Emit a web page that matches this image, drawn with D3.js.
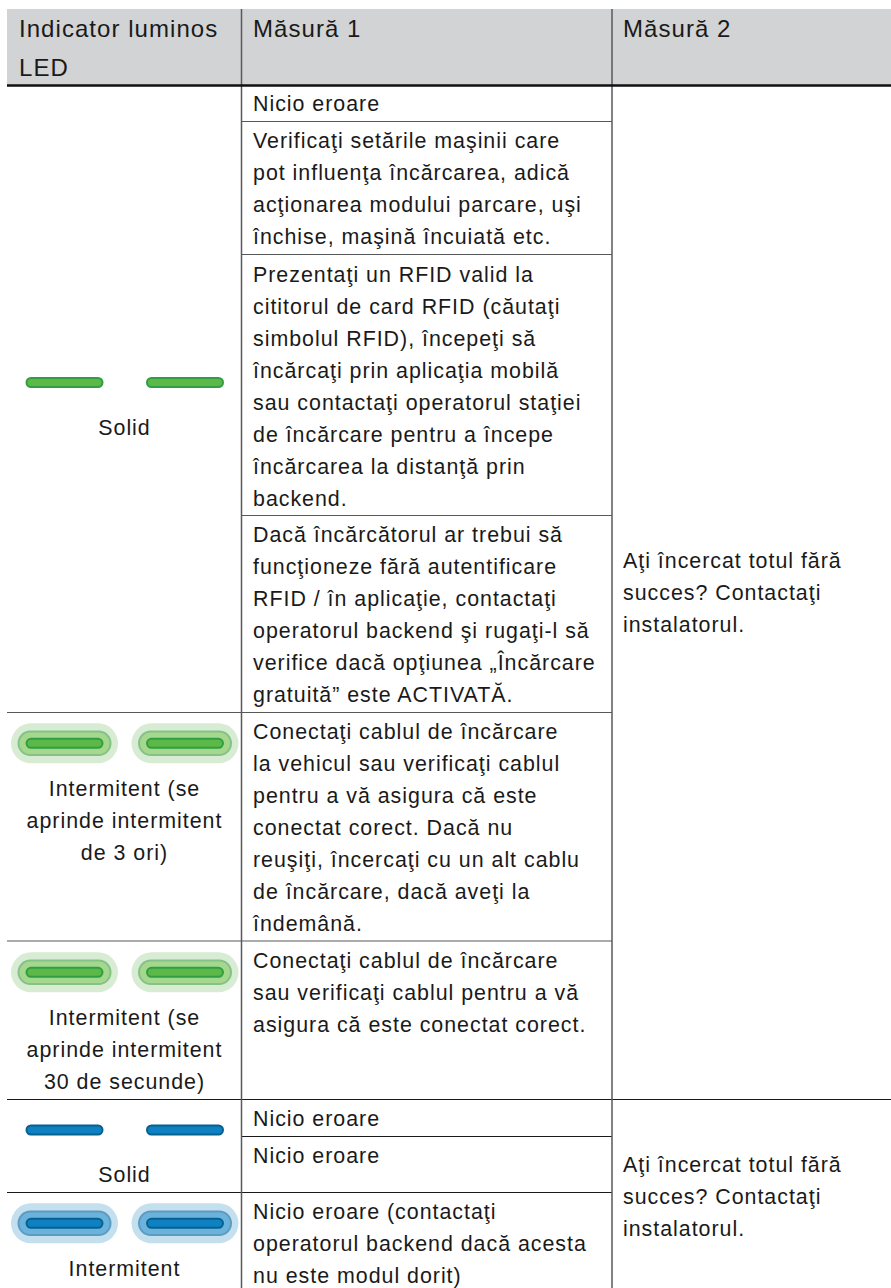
<!DOCTYPE html>
<html>
<head>
<meta charset="utf-8">
<script src="https://cdn.jsdelivr.net/npm/d3@7"></script>
<style>
  html, body { margin: 0; padding: 0; background: #fff; }
  svg { display: block; }
  text { font-family: "Liberation Sans", Arial, sans-serif; font-size: 21.4px; letter-spacing: 0.98px; fill: #1a1a1a; }
  .head text { font-size: 24px; letter-spacing: 1.05px; }
</style>
</head>
<body>
<svg id="table" width="891" height="1288"></svg>
<script>
// table contents
const headerLabels = [['Indicator luminos', 'LED'], ['Măsură 1'], ['Măsură 2']];

const measure1 = [
  ['Nicio eroare'],
  ['Verificaţi setările maşinii care', 'pot influenţa încărcarea, adică', 'acţionarea modului parcare, uşi', 'închise, maşină încuiată etc.'],
  ['Prezentaţi un RFID valid la', 'cititorul de card RFID (căutaţi', 'simbolul RFID), începeţi să', 'încărcaţi prin aplicaţia mobilă', 'sau contactaţi operatorul staţiei', 'de încărcare pentru a începe', 'încărcarea la distanţă prin', 'backend.'],
  ['Dacă încărcătorul ar trebui să', 'funcţioneze fără autentificare', 'RFID / în aplicaţie, contactaţi', 'operatorul backend şi rugaţi-l să', 'verifice dacă opţiunea „Încărcare', 'gratuită” este ACTIVATĂ.'],
  ['Conectaţi cablul de încărcare', 'la vehicul sau verificaţi cablul', 'pentru a vă asigura că este', 'conectat corect. Dacă nu', 'reuşiţi, încercaţi cu un alt cablu', 'de încărcare, dacă aveţi la', 'îndemână.'],
  ['Conectaţi cablul de încărcare', 'sau verificaţi cablul pentru a vă', 'asigura că este conectat corect.'],
  ['Nicio eroare'],
  ['Nicio eroare'],
  ['Nicio eroare (contactaţi', 'operatorul backend dacă acesta', 'nu este modul dorit)']
];

const measure2Text = ['Aţi încercat totul fără', 'succes? Contactaţi', 'instalatorul.'];

const ledLabels = [['Solid'], ['Intermitent (se', 'aprinde intermitent', 'de 3 ori)'], ['Intermitent (se', 'aprinde intermitent', '30 de secunde)'], ['Solid'], ['Intermitent']];
const ledColors = ['green', 'green', 'green', 'blue', 'blue'];
const ledBlinks = [false, true, true, false, true];

// layout
const rowEdges = [85, 121.5, 254.5, 515.5, 712.5, 941, 1099.5, 1136.5, 1192.5, 1288];
const rowTextY = [110.7, 147.7, 281.5, 541.7, 739, 968.3, 1125.7, 1162.7, 1219];
const ledEdges = [712.5, 941, 1099.5, 1192.5];
const ledY = [382.5, 743.3, 972.3, 1130, 1223.3];
const labelY = [435, 796, 1025, 1181.7, 1276];
const measure2Y = [568.3, 1171.7];
const lineH = 32;
const headY = [37, 76];
const darkFrom = 1099; // rules from here down are black, above they are grey

const palette = {
  green: { core: '#5cb947', edge: '#2f9e44', mid: '#a5d78c', midEdge: '#84c28a', outer: '#d8ecd4' },
  blue: { core: '#0f80c1', edge: '#07618f', mid: '#6bb3dc', midEdge: '#5c9cc0', outer: '#c4dfed' }
};

const svg = d3.select('#table');
const x = d3.scaleOrdinal().domain([0, 1, 2]).range([7, 241.5, 612]);
const textX = d3.scaleOrdinal().domain([0, 1, 2]).range([19, 253, 623]);
const ledX = d3.scalePoint().domain([0, 1]).range([64.5, 185]);
const col1Mid = 124.5;
const ruleColor = y => (y >= darkFrom ? '#1a1a1a' : '#58595b');

// header band
svg.append('rect').attr('x', 7).attr('y', 9).attr('width', 884).attr('height', 76).attr('fill', '#d1d3d4');

svg.selectAll('g.head')
  .data(headerLabels)
  .enter()
  .append('g')
  .attr('class', 'head')
  .each(function (lines, c) {
    d3.select(this).selectAll('text')
      .data(lines)
      .enter()
      .append('text')
      .attr('x', textX(c))
      .attr('y', (d, i) => headY[i])
      .text(d => d);
  });

// measure 1 rows
const rows = svg.selectAll('g.row')
  .data(measure1)
  .enter()
  .append('g')
  .attr('class', 'row');

rows.each(function (lines, r) {
  d3.select(this).selectAll('text')
    .data(lines)
    .enter()
    .append('text')
    .attr('x', textX(1))
    .attr('y', (d, i) => rowTextY[r] + i * lineH)
    .text(d => d);
});

// rules inside the measure column
svg.selectAll('line.rule')
  .data(rowEdges.slice(1, -1))
  .enter()
  .append('line')
  .attr('class', 'rule')
  .attr('x1', x(1))
  .attr('x2', x(2))
  .attr('y1', d => d)
  .attr('y2', d => d)
  .attr('stroke', ruleColor)
  .attr('stroke-width', 1.2);

// led rows
const leds = svg.selectAll('g.led')
  .data(ledLabels)
  .enter()
  .append('g')
  .attr('class', 'led');

leds.each(function (lines, r) {
  const g = d3.select(this);
  const colors = palette[ledColors[r]];
  g.selectAll('g.pill')
    .data(ledX.domain())
    .enter()
    .append('g')
    .attr('class', 'pill')
    .attr('transform', d => `translate(${ledX(d)},${ledY[r]})`)
    .each(function () {
      const p = d3.select(this);
      if (ledBlinks[r]) {
        p.append('rect').attr('x', -53.5).attr('y', -20).attr('width', 107).attr('height', 40).attr('rx', 20).attr('fill', colors.outer);
        p.append('rect').attr('x', -46).attr('y', -11.8).attr('width', 92).attr('height', 23.6).attr('rx', 11.8).attr('fill', colors.mid).attr('stroke', colors.midEdge).attr('stroke-width', 2);
      }
      p.append('rect').attr('x', -38).attr('y', -4.5).attr('width', 76).attr('height', 9).attr('rx', 4.5).attr('fill', colors.core).attr('stroke', colors.edge).attr('stroke-width', 2);
    });

  g.selectAll('text')
    .data(lines)
    .enter()
    .append('text')
    .attr('x', col1Mid)
    .attr('y', (d, i) => labelY[r] + i * lineH)
    .attr('text-anchor', 'middle')
    .text(d => d);
});

// rules across the led column
svg.selectAll('line.ledrule')
  .data(ledEdges)
  .enter()
  .append('line')
  .attr('class', 'ledrule')
  .attr('x1', 7)
  .attr('x2', x(1))
  .attr('y1', d => d)
  .attr('y2', d => d)
  .attr('stroke', ruleColor)
  .attr('stroke-width', 1.2);

// measure 2 merged cells
svg.selectAll('g.m2')
  .data(measure2Y)
  .enter()
  .append('g')
  .attr('class', 'm2')
  .each(function (y0) {
    d3.select(this).selectAll('text')
      .data(measure2Text)
      .enter()
      .append('text')
      .attr('x', textX(2))
      .attr('y', (t, i) => y0 + i * lineH)
      .text(t => t);
  });

svg.append('line').attr('x1', x(2)).attr('x2', 891).attr('y1', rowEdges[6]).attr('y2', rowEdges[6]).attr('stroke', '#1a1a1a').attr('stroke-width', 1.2);

// column separators and header rule
[x(1), x(2)].forEach(cx => {
  svg.append('line').attr('x1', cx).attr('x2', cx).attr('y1', 9).attr('y2', 1288).attr('stroke', '#58595b').attr('stroke-width', 1.5);
});
svg.append('line').attr('x1', 7).attr('x2', 891).attr('y1', 85.5).attr('y2', 85.5).attr('stroke', '#111').attr('stroke-width', 2.5);
</script>
</body>
</html>
